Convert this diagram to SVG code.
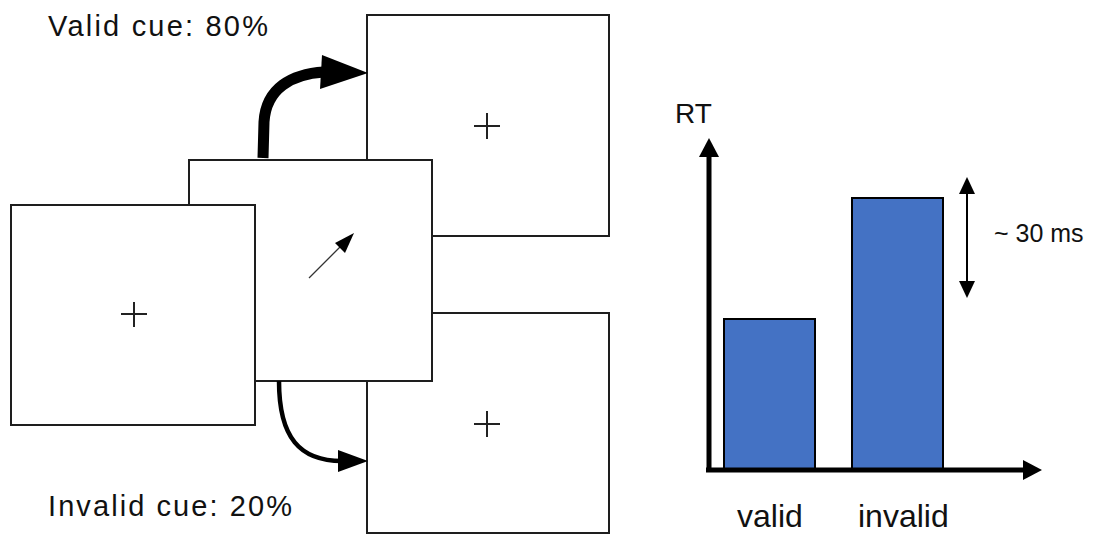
<svg xmlns="http://www.w3.org/2000/svg" width="1105" height="536" viewBox="0 0 1105 536">
  <style>
    .frame { fill: #ffffff; stroke: #1e1e1e; stroke-width: 2; }
    .fix { stroke: #222222; stroke-width: 2; fill: none; }
    .lbl { font-family: "Liberation Sans", Arial, sans-serif; fill: #111111; }
    .bar { fill: #4472C4; stroke: #000000; stroke-width: 2; }
    .axis { stroke: #000000; stroke-width: 5; fill: none; }
    .head { fill: #000000; }
  </style>
  <rect width="1105" height="536" fill="#ffffff"/>

  <!-- target display, valid location (upper) -->
  <g id="target-valid">
    <rect class="frame" x="367" y="15" width="242" height="221"/>
    <path class="fix" d="M474,126 H500 M487,113 V139"/>
  </g>

  <!-- target display, invalid location (lower) -->
  <g id="target-invalid">
    <rect class="frame" x="367" y="313" width="242" height="220"/>
    <path class="fix" d="M474,424 H500 M487,411 V437"/>
  </g>

  <!-- cue display with arrow -->
  <g id="cue">
    <rect class="frame" x="189" y="160" width="243" height="221"/>
    <line x1="309" y1="278" x2="342" y2="245" stroke="#333333" stroke-width="1.3"/>
    <polygon class="head" points="354,233 335,243 345,253"/>
  </g>

  <!-- fixation display -->
  <g id="fixation">
    <rect class="frame" x="11" y="205" width="244" height="220"/>
    <path class="fix" d="M121,314 H147 M134,302 V327"/>
  </g>

  <!-- transitions between displays -->
  <g id="connectors">
    <path d="M263,158 L264,122 C266,88 292,74 324,72" fill="none" stroke="#000" stroke-width="11"/>
    <polygon class="head" points="368,73 322,55 320,89"/>
    <path d="M279,381 C279,438 300,461 342,461" fill="none" stroke="#000" stroke-width="4.5"/>
    <polygon class="head" points="368,461 338,450 338,472"/>
  </g>

  <g id="label-valid-cue">
    <text class="lbl" x="48" y="36" font-size="29" textLength="220" lengthAdjust="spacing">Valid cue: 80%</text>
  </g>
  <g id="label-invalid-cue">
    <text class="lbl" x="48" y="516" font-size="29" textLength="244" lengthAdjust="spacing">Invalid cue: 20%</text>
  </g>

  <!-- reaction time chart -->
  <g id="chart">
    <rect class="bar" x="724" y="319" width="91" height="151"/>
    <rect class="bar" x="852" y="198" width="91" height="272"/>
    <line class="axis" x1="709" y1="472" x2="709" y2="154"/>
    <polygon class="head" points="709,138 699,157 719,157"/>
    <line class="axis" x1="706" y1="470" x2="1025" y2="470"/>
    <polygon class="head" points="1042,470 1023,460 1023,480"/>
    <line x1="967" y1="190" x2="967" y2="285" stroke="#000" stroke-width="2"/>
    <polygon class="head" points="967,177 959,194 975,194"/>
    <polygon class="head" points="967,298 959,281 975,281"/>
    <text class="lbl" x="675" y="123" font-size="28">RT</text>
    <text class="lbl" x="994" y="242" font-size="25">~ 30 ms</text>
    <text class="lbl" x="737" y="527" font-size="32">valid</text>
    <text class="lbl" x="858" y="527" font-size="32">invalid</text>
  </g>
</svg>
